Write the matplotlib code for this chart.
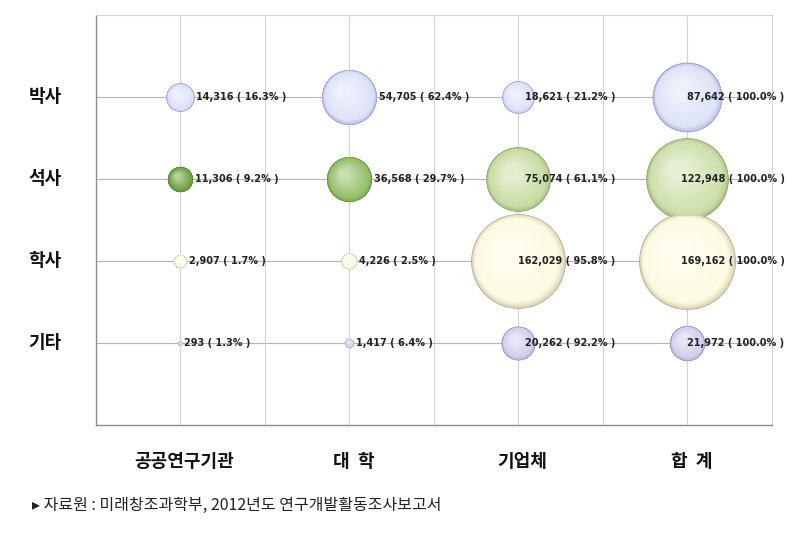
import numpy as np
import matplotlib
matplotlib.use("Agg")
import matplotlib.pyplot as plt
import matplotlib.colors as mcolors
from matplotlib.transforms import offset_copy

plt.rcParams["font.family"] = ["Noto Sans CJK KR", "DejaVu Sans"]
plt.rcParams["axes.unicode_minus"] = False

# 데이터
institutions = ["공공연구기관", "대  학", "기업체", "합  계"]
degrees = ["박사", "석사", "학사", "기타"]
phd = [14316, 54705, 18621, 87642]
master = [11306, 36568, 75074, 122948]
bachelor = [2907, 4226, 162029, 169162]
other = [293, 1417, 20262, 21972]
phd_pct = [16.3, 62.4, 21.2, 100.0]
master_pct = [9.2, 29.7, 61.1, 100.0]
bachelor_pct = [1.7, 2.5, 95.8, 100.0]
other_pct = [1.3, 6.4, 92.2, 100.0]
source = "▸ 자료원 : 미래창조과학부, 2012년도 연구개발활동조사보고서"

values = [phd, master, bachelor, other]
pcts = [phd_pct, master_pct, bachelor_pct, other_pct]

# 색 (가장자리, 몸체) - 석사는 크기별로 다름
colors = [
    [("#8f98d4", "#dfe3f8")] * 4,
    [("#3d7322", "#74a446"), ("#4f8a2e", "#98c16a"), ("#86a85a", "#cbdda6"), ("#8aab5e", "#cfe0ad")],
    [("#bdb594", "#fdfbe2")] * 4,
    [("#8a80b8", "#d6d0ec")] * 4,
]

fig = plt.figure(figsize=(8.04, 5.33), dpi=100)
ax = fig.add_axes([0.119, 0.203, 0.841, 0.769])
ax.set_xlim(0, 8)
ax.set_ylim(0, 5)

for xv in range(0, 9):
    ax.axvline(xv, color="#d4d4d4", lw=0.8, zorder=0)
for yv in range(1, 5):
    ax.axhline(yv, color="#b4b4b4", lw=0.8, zorder=0)
for side in ["top", "right"]:
    ax.spines[side].set_color("#d4d4d4")
    ax.spines[side].set_linewidth(0.8)
for side in ["left", "bottom"]:
    ax.spines[side].set_color("#8c8c8c")
    ax.spines[side].set_linewidth(1.0)
ax.set_xticks([])
ax.set_yticks([])

vmax = max(max(r) for r in values)
rmax_pt = 48 * 0.72  # 가장 큰 버블 반지름 (pt)
xs = [1, 3, 5, 7]
ys = [4, 3, 2, 1]

n_layers = 16
for i, row in enumerate(values):
    for j, v in enumerate(row):
        r = rmax_pt * np.sqrt(v / vmax)
        edge, body = colors[i][j]
        c0 = np.array(mcolors.to_rgb(edge))
        c1 = np.array(mcolors.to_rgb(body))
        hi = c1 + (1 - c1) * 0.55
        ax.scatter([xs[j]], [ys[i]], s=(2 * r) ** 2, color=c0,
                   edgecolors=c0 * 0.9, linewidths=0.4, zorder=3)
        for k in range(1, n_layers):
            t = k / n_layers
            rk = r * (1 - 0.1 * t - 0.75 * t ** 2.2)
            d = (r - rk) * 0.3
            if t < 0.35:
                col = c0 + (c1 - c0) * (t / 0.35) ** 0.6
            else:
                col = c1 + (hi - c1) * ((t - 0.35) / 0.65) ** 1.5
            tr = offset_copy(ax.transData, fig=fig, x=-d, y=d, units="points")
            ax.scatter([xs[j]], [ys[i]], s=(2 * rk) ** 2, color=col,
                       linewidths=0, transform=tr, zorder=3 + k * 0.01)
        p = pcts[i][j]
        label = f"{v:,} ( {p:.1f}% )"
        if j < 2:
            ax.annotate(label, (xs[j], ys[i]), xytext=(r + 1.5, 0),
                        textcoords="offset points", ha="left", va="center",
                        fontsize=7, fontweight="bold", color="#222222",
                        family=["DejaVu Sans"], zorder=5)
        else:
            ax.annotate(label, (xs[j], ys[i]), xytext=(70, 0),
                        textcoords="offset points", ha="right", va="center",
                        fontsize=7, fontweight="bold", color="#222222",
                        family=["DejaVu Sans"], zorder=5)

for i, d in enumerate(degrees):
    ax.text(-0.4, ys[i], d, ha="right", va="center", fontsize=13,
            fontweight="bold", color="#111111")
for j, name in enumerate(institutions):
    ax.text(xs[j] + 0.05, -0.45, name, ha="center", va="center",
            fontsize=13, fontweight="bold", color="#111111")

fig.text(0.04, 0.052, source, ha="left", va="center", fontsize=11.5,
         color="#222222")

fig.savefig("out.png", dpi=100)
